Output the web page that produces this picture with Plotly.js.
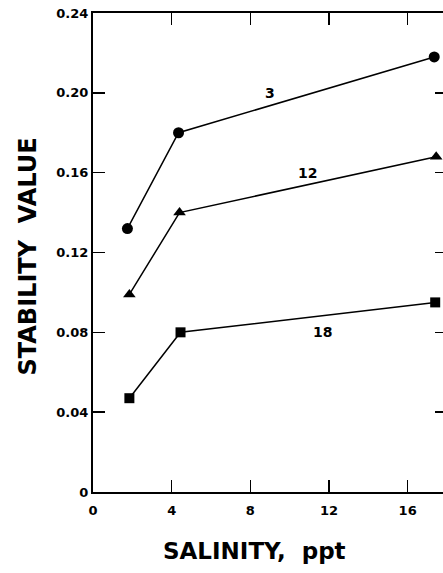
<!DOCTYPE html>
<html>
<head>
<meta charset="utf-8">
<script src="https://cdn.plot.ly/plotly-3.0.1.min.js"></script>
<style>
html,body{margin:0;padding:0;overflow:hidden;background:#fff;}
#chart{width:460px;height:573px;}
</style>
</head>
<body>
<div id="chart"></div>
<script>
// Data
const salinity3 = [1.75, 4.35, 17.35];
const stability3 = [0.132, 0.180, 0.218];
const salinity12 = [1.85, 4.4, 17.45];
const stability12 = [0.099, 0.140, 0.168];
const salinity18 = [1.85, 4.45, 17.4];
const stability18 = [0.047, 0.080, 0.095];

const curveNames = ["3", "12", "18"];
const curveLabelX = [9.0, 10.9, 11.65];
const curveLabelY = [0.200, 0.160, 0.080];

const xTickVals = [0, 4, 8, 12, 16];
const xTickText = ["0", "4", "8", "12", "16"];
const yTickVals = [0, 0.04, 0.08, 0.12, 0.16, 0.20, 0.24];
const yTickText = ["0", "0.04", "0.08", "0.12", "0.16", "0.20", "0.24"];

const fontFam = "DejaVu Sans";

function series(x, y, symbol, size) {
  return {
    x: x, y: y, type: "scatter", mode: "lines+markers",
    line: {color: "#000", width: 1.5},
    marker: {symbol: symbol, size: size, color: "#000"},
    showlegend: false, hoverinfo: "skip"
  };
}

const traces = [
  series(salinity3, stability3, "circle", 11),
  series(salinity12, stability12, "triangle-up", 11),
  series(salinity18, stability18, "square", 10)
];

const annotations = curveNames.map((t, i) => ({
  x: curveLabelX[i], y: curveLabelY[i], xref: "x", yref: "y",
  text: t, showarrow: false,
  font: {family: fontFam, size: 14, color: "#000", weight: "bold"}
}));

annotations.push({
  xref: "paper", yref: "paper",
  x: (254.5 - 93) / 354, y: (492 - 551) / 479,
  text: "SALINITY,  ppt", showarrow: false,
  xanchor: "center", yanchor: "middle",
  font: {family: fontFam, size: 23, color: "#000", weight: "bold"}
});
annotations.push({
  xref: "paper", yref: "paper",
  x: (27 - 93) / 354, y: (492 - 256.5) / 479,
  text: "STABILITY  VALUE", showarrow: false, textangle: -90,
  xanchor: "center", yanchor: "middle",
  font: {family: fontFam, size: 24, color: "#000", weight: "bold"}
});

const layout = {
  width: 460, height: 573,
  margin: {l: 93, r: 13, t: 13, b: 81},
  paper_bgcolor: "#fff", plot_bgcolor: "#fff",
  xaxis: {
    range: [0, 18], tickvals: xTickVals, ticktext: xTickText,
    ticks: "inside", ticklen: 12, tickwidth: 1.5, tickcolor: "#000",
    showline: true, linecolor: "#000", linewidth: 2, mirror: "ticks",
    showgrid: false, zeroline: false, ticklabelstandoff: 5,
    tickfont: {family: fontFam, size: 13, color: "#000", weight: "bold"}
  },
  yaxis: {
    range: [0, 0.24], tickvals: yTickVals, ticktext: yTickText,
    ticks: "inside", ticklen: 12, tickwidth: 1.5, tickcolor: "#000",
    showline: true, linecolor: "#000", linewidth: 2, mirror: "ticks",
    showgrid: false, zeroline: false, ticklabelstandoff: 0,
    tickfont: {family: fontFam, size: 13, color: "#000", weight: "bold"}
  },
  annotations: annotations
};

Plotly.newPlot("chart", traces, layout, {staticPlot: true, displayModeBar: false});
</script>
</body>
</html>
